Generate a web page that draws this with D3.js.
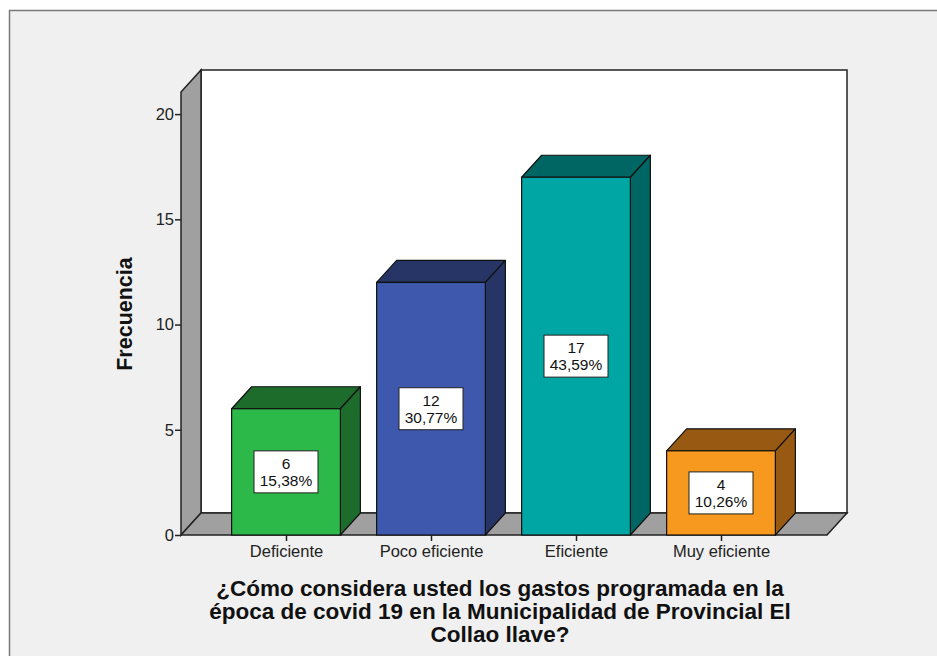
<!DOCTYPE html>
<html><head><meta charset="utf-8">
<script src="https://cdn.jsdelivr.net/npm/d3@7"></script>
<style>body{margin:0;background:#fff;}svg{display:block;font-family:"Liberation Sans",Arial,sans-serif;}</style>
</head><body><svg id="c" width="937" height="656"></svg>
<script>
const categories = ["Deficiente", "Poco eficiente", "Eficiente", "Muy eficiente"];
const counts = [6, 12, 17, 4];
const percents = ["15,38%", "30,77%", "43,59%", "10,26%"];
const yTicks = [0, 5, 10, 15, 20];
const frontColors = ["#2db84a", "#3e58ad", "#00a6a3", "#f8991f"];
const darkColors = ["#1d6c2c", "#263565", "#006663", "#985a12"];
const titleLines = ["¿Cómo considera usted los gastos programada en la", "época de covid 19 en la Municipalidad de Provincial El", "Collao llave?"];
const yLabel = "Frecuencia";

const svg = d3.select("#c");
svg.append("rect").attr("x",0).attr("y",0).attr("width",937).attr("height",656).attr("fill","#fff");
svg.append("rect").attr("x",9.5).attr("y",10.5).attr("width",940).attr("height",660).attr("fill","#f0f0f0").attr("stroke","#7a7a7a").attr("stroke-width",1.5);

const DX = 20, DY = 22;
const x0 = 181, x1 = 827;
const y = d3.scaleLinear().domain([0, 21.05]).range([535, 92]);
const x = d3.scaleBand().domain(categories).range([213.5, 793.5]).paddingInner(0.25).paddingOuter(0.125);

const g = svg.append("g");
const yTop = y(21.05), yBot = y(0);
g.append("rect").attr("x", x0+DX).attr("y", yTop-DY).attr("width", x1-x0).attr("height", yBot-yTop)
 .attr("fill","#fff").attr("stroke","#222").attr("stroke-width",1.5);
g.append("path").attr("d", `M${x0},${yBot}L${x0},${yTop}L${x0+DX},${yTop-DY}L${x0+DX},${yBot-DY}Z`)
 .attr("fill","#a0a0a0").attr("stroke","#222").attr("stroke-width",1.5);
g.append("path").attr("d", `M${x0},${yBot}L${x0+DX},${yBot-DY}L${x1+DX},${yBot-DY}L${x1},${yBot}Z`)
 .attr("fill","#a0a0a0").attr("stroke","#222").attr("stroke-width",1.5);

categories.forEach((c,i)=>{
  const bx = x(c), bw = x.bandwidth(), by = y(counts[i]), b0 = y(0);
  const bg = g.append("g");
  bg.append("path").attr("d", `M${bx},${by}L${bx+DX},${by-DY}L${bx+bw+DX},${by-DY}L${bx+bw},${by}Z`)
    .attr("fill", darkColors[i]).attr("stroke","#111").attr("stroke-width",1.2).attr("stroke-linejoin","round");
  bg.append("path").attr("d", `M${bx+bw},${by}L${bx+bw+DX},${by-DY}L${bx+bw+DX},${b0-DY}L${bx+bw},${b0}Z`)
    .attr("fill", darkColors[i]).attr("stroke","#111").attr("stroke-width",1.2).attr("stroke-linejoin","round");
  bg.append("rect").attr("x",bx).attr("y",by).attr("width",bw).attr("height",b0-by)
    .attr("fill", frontColors[i]).attr("stroke","#111").attr("stroke-width",1.2);
  const cx = bx + bw/2, cy = (by+b0)/2;
  bg.append("rect").attr("x", cx-32).attr("y", cy-21).attr("width",64).attr("height",42)
    .attr("fill","#fff").attr("stroke","#222").attr("stroke-width",1);
  bg.append("text").attr("x",cx).attr("y",cy-3).attr("text-anchor","middle").attr("font-size",15.5).attr("fill","#111").text(counts[i]);
  bg.append("text").attr("x",cx).attr("y",cy+14).attr("text-anchor","middle").attr("font-size",15.5).attr("fill","#111").text(percents[i]);
});

const yAxis = d3.axisLeft(y).tickValues(yTicks).tickSize(6).tickSizeOuter(0).tickFormat(d3.format("d"));
const ya = svg.append("g").attr("transform",`translate(${x0},0)`).call(yAxis);
ya.select(".domain").remove();
ya.selectAll("line").attr("stroke","#222").attr("stroke-width",1.5);
ya.selectAll("text").attr("font-size",16.5).attr("fill","#222").attr("font-family","Liberation Sans, Arial, sans-serif").attr("x",-7);

const xa = svg.append("g").attr("transform",`translate(0,${y(0)})`)
  .call(d3.axisBottom(d3.scalePoint().domain(categories).range([x(categories[0])+x.bandwidth()/2, x(categories[3])+x.bandwidth()/2])).tickSize(6).tickSizeOuter(0).tickPadding(4));
xa.select(".domain").remove();
xa.selectAll("line").attr("stroke","#222").attr("stroke-width",1.5);
xa.selectAll("text").attr("font-size",16.5).attr("fill","#222").attr("font-family","Liberation Sans, Arial, sans-serif");

svg.append("text").attr("transform","translate(132,314) rotate(-90)").attr("text-anchor","middle")
  .attr("font-size",21.5).attr("font-weight","bold").attr("fill","#111").text(yLabel);

titleLines.forEach((t,i)=>{
  svg.append("text").attr("x",500).attr("y",596+i*23).attr("text-anchor","middle")
   .attr("font-size",22.5).attr("font-weight","bold").attr("fill","#111").text(t);
});
</script></body></html>
